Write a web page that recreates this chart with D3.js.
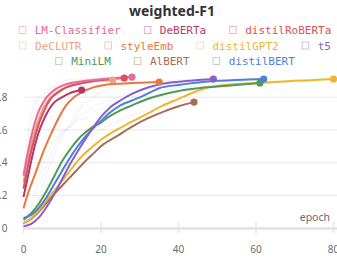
<!DOCTYPE html>
<html><head><meta charset="utf-8">
<script src="https://cdn.jsdelivr.net/npm/d3@7"></script>
<style>
html,body{margin:0;padding:0;background:#fff;overflow:hidden}
svg{display:block}
</style></head>
<body><svg id="c" width="337" height="266"></svg>
<script>
const title = "weighted-F1";
const xLabel = "epoch";
const xTicks = [0, 20, 40, 60, 80];
const yTicks = [0, 0.2, 0.4, 0.6, 0.8];
const yTickLabels = ["0", "0.2", "0.4", "0.6", "0.8"];

const models = ["LM-Classifier","DeBERTa","distilRoBERTa","DeCLUTR","styleEmb","distilGPT2","t5","MiniLM","AlBERT","distilBERT"];
const colors = ["#e5699a","#b0386c","#da505c","#eaa47e","#e9773f","#f0b530","#8b5fc8","#4f9a5b","#a86c56","#4c80e0"];
const legendRows = [[0,1,2],[3,4,5,6],[7,8,9]];

// smoothed series: [epoch, value]
const lmClassifier = [[0,0.32],[1,0.45],[2,0.56],[3,0.65],[4,0.72],[5,0.765],[6,0.80],[8,0.845],[10,0.87],[13,0.89],[16,0.90],[20,0.91],[24,0.918],[28,0.923]];
const deberta = [[0,0.19],[1,0.30],[2,0.41],[3,0.51],[4,0.59],[5,0.65],[6,0.70],[7,0.74],[8,0.77],[10,0.80],[12,0.825],[15,0.844]];
const distilRoberta = [[0,0.24],[1,0.36],[2,0.47],[3,0.56],[4,0.64],[5,0.70],[6,0.75],[7,0.79],[9,0.83],[11,0.86],[14,0.88],[17,0.895],[20,0.905],[23,0.912],[26,0.917]];
const declutr = [[0,0.28],[1,0.40],[2,0.51],[3,0.60],[4,0.67],[5,0.73],[6,0.77],[8,0.82],[10,0.85],[13,0.875],[16,0.89],[20,0.90],[23,0.905]];
const styleEmb = [[0,0.12],[1,0.20],[3,0.33],[5,0.46],[7,0.57],[9,0.67],[11,0.75],[13,0.80],[15,0.83],[18,0.86],[21,0.875],[25,0.883],[30,0.889],[35,0.893]];
const distilGPT2 = [[0,0.03],[2,0.06],[4,0.11],[6,0.17],[8,0.23],[10,0.29],[12,0.35],[14,0.41],[16,0.46],[18,0.50],[20,0.54],[24,0.60],[28,0.65],[32,0.70],[36,0.75],[40,0.79],[44,0.83],[48,0.86],[52,0.875],[56,0.882],[60,0.887],[65,0.893],[70,0.90],[75,0.905],[80,0.911]];
const t5 = [[0,0.01],[2,0.025],[4,0.065],[6,0.13],[8,0.21],[10,0.30],[12,0.39],[14,0.47],[16,0.545],[18,0.615],[20,0.68],[22,0.73],[25,0.78],[28,0.82],[31,0.85],[35,0.878],[40,0.895],[45,0.905],[49,0.911]];
const miniLM = [[0,0.05],[2,0.09],[4,0.15],[6,0.23],[8,0.32],[10,0.41],[12,0.48],[14,0.54],[16,0.585],[18,0.62],[20,0.645],[22,0.68],[25,0.72],[28,0.75],[31,0.78],[35,0.81],[40,0.838],[45,0.855],[50,0.865],[55,0.875],[61,0.887]];
const albert = [[0,0.03],[2,0.055],[4,0.10],[6,0.155],[8,0.21],[10,0.26],[12,0.31],[14,0.36],[16,0.41],[18,0.455],[20,0.50],[24,0.56],[28,0.62],[32,0.67],[36,0.71],[40,0.745],[44,0.77]];
const distilBERT = [[0,0.06],[2,0.08],[4,0.125],[6,0.19],[8,0.27],[10,0.35],[12,0.43],[14,0.50],[16,0.56],[18,0.61],[20,0.655],[22,0.70],[25,0.75],[28,0.78],[31,0.81],[35,0.855],[40,0.875],[45,0.89],[50,0.90],[55,0.905],[62,0.911]];

// faint raw traces
const rawLM = [[0,0.34],[1,0.58],[2,0.70],[3,0.77],[4,0.80],[5,0.83],[6,0.85],[7,0.87],[8,0.865],[9,0.89],[10,0.895],[12,0.91],[14,0.905],[16,0.92],[18,0.915],[20,0.925],[24,0.92],[28,0.93]];
const rawRoberta = [[0,0.26],[1,0.50],[2,0.64],[3,0.72],[4,0.78],[5,0.80],[6,0.83],[7,0.85],[8,0.86],[10,0.88],[12,0.885],[14,0.90],[17,0.91],[20,0.915],[23,0.92],[26,0.92]];
const rawMiniLM = [[0,0.05],[2,0.16],[4,0.31],[6,0.45],[8,0.54],[10,0.59],[12,0.62],[14,0.66],[16,0.67],[18,0.71],[20,0.73],[24,0.78],[28,0.80],[32,0.83],[36,0.84],[40,0.86],[45,0.865],[50,0.875],[55,0.88],[61,0.89]];
const rawDistilBERT = [[0,0.06],[2,0.12],[4,0.26],[6,0.39],[8,0.50],[10,0.58],[12,0.62],[14,0.68],[16,0.70],[18,0.745],[20,0.76],[24,0.80],[28,0.83],[32,0.85],[36,0.87],[40,0.885],[45,0.895],[50,0.905],[55,0.91],[62,0.915]];
const rawT5 = [[0,0.01],[2,0.06],[4,0.18],[6,0.33],[8,0.46],[10,0.56],[12,0.64],[14,0.71],[16,0.77],[18,0.80],[20,0.83],[24,0.86],[28,0.88],[32,0.89],[36,0.90],[40,0.905],[45,0.91],[49,0.915]];
const rawGPT2 = [[0,0.03],[2,0.09],[4,0.17],[6,0.27],[8,0.36],[10,0.44],[12,0.50],[14,0.56],[16,0.60],[18,0.64],[20,0.67],[24,0.72],[28,0.76],[32,0.80],[36,0.83],[40,0.86],[44,0.875],[50,0.89],[60,0.90],[70,0.905],[80,0.915]];
const rawAlbert = [[0,0.03],[2,0.08],[4,0.15],[6,0.24],[8,0.31],[10,0.37],[12,0.43],[14,0.48],[16,0.53],[18,0.57],[20,0.60],[24,0.65],[28,0.69],[32,0.72],[36,0.75],[40,0.77],[44,0.785]];

const series = [lmClassifier, deberta, distilRoberta, declutr, styleEmb, distilGPT2, t5, miniLM, albert, distilBERT];
const rawSeries = [[0,rawLM],[2,rawRoberta],[7,rawMiniLM],[9,rawDistilBERT],[6,rawT5],[5,rawGPT2],[8,rawAlbert]];

const svg = d3.select("#c");
const x = d3.scaleLinear().domain([0, 80]).range([23.5, 333.5]);
const y = d3.scaleLinear().domain([0, 1]).range([228, 64.5]);

// gridlines
svg.append("g").selectAll("line").data(yTicks.filter(d => d > 0)).join("line")
  .attr("x1", x(0)).attr("x2", 337).attr("y1", d => y(d)).attr("y2", d => y(d))
  .attr("stroke", "#ececec").attr("stroke-width", 1.3);

// x axis line and ticks
svg.append("line").attr("x1", x(0)).attr("x2", 337).attr("y1", y(0)+0.5).attr("y2", y(0)+0.5)
  .attr("stroke", "#e2e2e2").attr("stroke-width", 2.5);
svg.append("g").selectAll("line").data(xTicks).join("line")
  .attr("x1", d => x(d)).attr("x2", d => x(d)).attr("y1", y(0) - 6).attr("y2", y(0) + 5)
  .attr("stroke", "#e6e6e6").attr("stroke-width", 1.5);

const tickFont = "'Noto Sans', sans-serif";
svg.append("g").selectAll("text").data(xTicks).join("text")
  .attr("x", d => x(d)).attr("y", 253).attr("text-anchor", "middle")
  .attr("font-family", tickFont).attr("font-size", 10).attr("fill", "#6b6b6b")
  .text(d => d);
svg.append("g").selectAll("text").data(yTicks).join("text")
  .attr("x", 7.5).attr("y", d => y(d) + 3.6).attr("text-anchor", "end")
  .attr("font-family", tickFont).attr("font-size", 10).attr("fill", "#6b6b6b")
  .text((d, i) => yTickLabels[i]);

svg.append("text").attr("x", 330).attr("y", 221).attr("text-anchor", "end")
  .attr("font-family", tickFont).attr("font-size", 10.5).attr("fill", "#6b6b6b").text(xLabel);

const line = d3.line().x(d => x(d[0])).y(d => y(d[1])).curve(d3.curveMonotoneX);

// faint raw traces
svg.append("g").selectAll("path").data(rawSeries).join("path")
  .attr("d", d => line(d[1])).attr("fill", "none")
  .attr("stroke", d => colors[d[0]]).attr("stroke-opacity", 0.07).attr("stroke-width", 1.5);

// main lines, draw back to front
const order = [8,5,7,9,6,4,3,1,2,0];
const g = svg.append("g");
order.forEach(i => {
  g.append("path").attr("d", line(series[i])).attr("fill", "none")
    .attr("stroke", colors[i]).attr("stroke-width", 2).attr("stroke-linejoin", "round");
});
order.forEach(i => {
  const last = series[i][series[i].length - 1];
  g.append("circle").attr("cx", x(last[0])).attr("cy", y(last[1])).attr("r", 3.6)
    .attr("fill", colors[i]);
});

// title
svg.append("text").attr("x", 172).attr("y", 16).attr("text-anchor", "middle")
  .attr("font-family", "'Noto Sans', sans-serif").attr("font-weight", "bold")
  .attr("font-size", 14).attr("fill", "#333").text(title);

// legend
const legFont = "'DejaVu Sans Mono', monospace";
const rowY = [34, 49.5, 65];
legendRows.forEach((row, r) => {
  const rg = svg.append("g");
  let cx = 0;
  row.forEach((i, k) => {
    const ig = rg.append("g").attr("transform", `translate(${cx},0)`);
    ig.append("rect").attr("x", 0.5).attr("y", rowY[r] - 7.5).attr("width", 6.5).attr("height", 7)
      .attr("fill", "none").attr("stroke", colors[i]).attr("stroke-opacity", 0.4).attr("stroke-width", 1);
    const t = ig.append("text").attr("x", 16).attr("y", rowY[r])
      .attr("font-family", legFont).attr("font-size", 11).attr("fill", colors[i]).text(models[i]);
    cx += 16 + t.node().getComputedTextLength() + 23;
  });
  const w = cx - 23;
  rg.attr("transform", `translate(${175 - w / 2},0)`);
});
</script>
</body></html>
